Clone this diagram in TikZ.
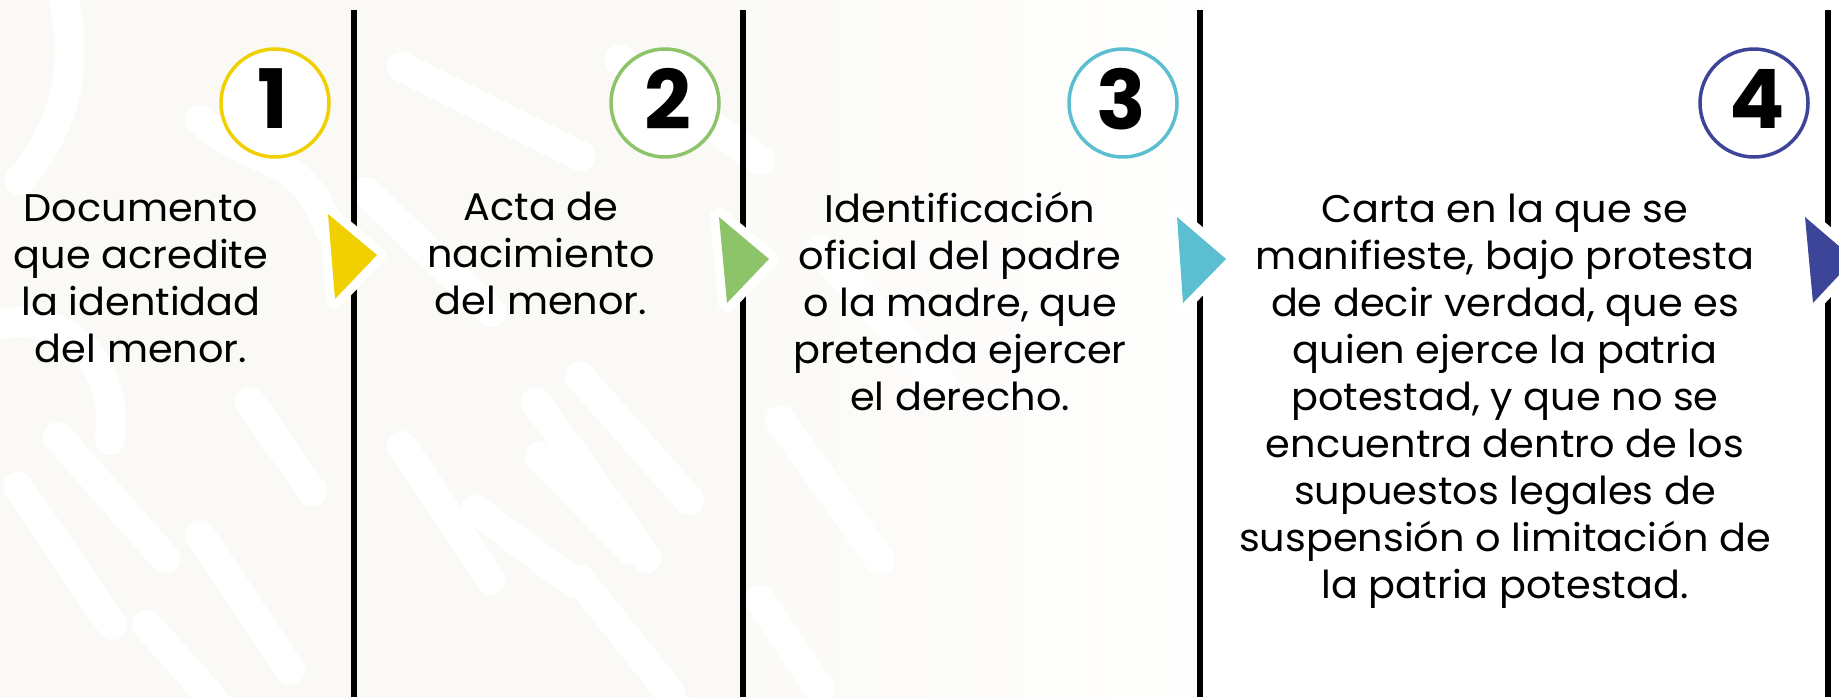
\documentclass[tikz,border=0pt]{standalone}
\usepackage{fontspec}
\setmainfont{Poppins}
\newfontfamily\bodyfont{Poppins}[FakeStretch=1.035]
\definecolor{cyel}{HTML}{F0D000}
\definecolor{cgrn}{HTML}{8DC46A}
\definecolor{ccyan}{HTML}{5BBFD1}
\definecolor{cnavy}{HTML}{3C4597}
\definecolor{cream}{HTML}{FAF9F5}
\tikzset{
  sepline/.style={line width=5.5pt, black},
  halo/.style={draw=white, line width=18pt, line join=round, fill=white},
  numcircle/.style={circle, minimum size=108pt, inner sep=0pt, line width=3.5pt, fill=white},
  numtext/.style={inner sep=0pt, anchor=center, font=\fontsize{82}{82}\selectfont\bfseries},
  bodytext/.style={inner sep=0pt, anchor=base, align=center, font=\bodyfont\fontsize{38.5}{47}\selectfont},
  bgstroke/.style={white, line width=30pt, line cap=round, line join=round}
}
\begin{document}
\begin{tikzpicture}[x=1pt,y=-1pt]
\useasboundingbox (0,0) rectangle (1839,697);
% background
\fill[cream] (0,0) rectangle (700,697);
\shade[left color=cream, right color=white] (699,0) rectangle (1250,697);
\draw[bgstroke] (60,-20) .. controls (80,60) and (70,120) .. (20,180);
\draw[bgstroke] (-20,330) .. controls (60,300) and (120,360) .. (110,440);
\draw[bgstroke] (58,437) -- (165,558);
\draw[bgstroke] (18,487) -- (112,625);
\draw[bgstroke] (200,535) -- (290,670);
\draw[bgstroke] (250,402) -- (312,491);
\draw[bgstroke] (147,625) -- (214,700);
\draw[bgstroke] (200,120) .. controls (260,170) and (300,150) .. (330,230);
\draw[bgstroke] (402,67) -- (580,156);
\draw[bgstroke] (366,192) -- (491,312);
\draw[bgstroke] (402,446) -- (491,580);
\draw[bgstroke] (536,402) -- (647,558);
\draw[bgstroke] (580,580) -- (670,692);
\draw[bgstroke] (476,510) -- (574,583);
\draw[bgstroke] (540,457) -- (631,550);
\draw[bgstroke] (580,377) -- (689,500);
\draw[bgstroke] (620,60) -- (760,160);
\draw[bgstroke] (780,420) -- (880,560);
\draw[bgstroke] (820,250) -- (940,380);
\draw[bgstroke] (760,600) -- (820,690);
% separator lines
\coordinate (l1t) at (354,10);  \coordinate (l1b) at (354,697);
\coordinate (l2t) at (743,10);  \coordinate (l2b) at (743,697);
\coordinate (l3t) at (1200,10); \coordinate (l3b) at (1200,697);
\coordinate (l4t) at (1828,10); \coordinate (l4b) at (1828,697);
\draw[sepline] (l1t) -- (l1b);
\draw[sepline] (l2t) -- (l2b);
\draw[sepline] (l3t) -- (l3b);
\draw[sepline] (l4t) -- (l4b);
% arrow triangles
\coordinate (a1a) at (328,214);  \coordinate (a1b) at (377,255);  \coordinate (a1c) at (335,299);
\coordinate (a2a) at (719,217);  \coordinate (a2b) at (769,259);  \coordinate (a2c) at (727,303);
\coordinate (a3a) at (1177,217); \coordinate (a3b) at (1226,259); \coordinate (a3c) at (1183,303);
\coordinate (a4a) at (1805,217); \coordinate (a4b) at (1854,259); \coordinate (a4c) at (1813,303);
\draw[halo] (a1a) -- (a1b) -- (a1c) -- cycle;
\fill[cyel] (a1a) -- (a1b) -- (a1c) -- cycle;
\draw[halo] (a2a) -- (a2b) -- (a2c) -- cycle;
\fill[cgrn] (a2a) -- (a2b) -- (a2c) -- cycle;
\draw[halo] (a3a) -- (a3b) -- (a3c) -- cycle;
\fill[ccyan] (a3a) -- (a3b) -- (a3c) -- cycle;
\draw[halo] (a4a) -- (a4b) -- (a4c) -- cycle;
\fill[cnavy] (a4a) -- (a4b) -- (a4c) -- cycle;
% number circles
\node[numcircle, draw=cyel]  (c1) at (275,103) {};
\node[numcircle, draw=cgrn]  (c2) at (665,103) {};
\node[numcircle, draw=ccyan] (c3) at (1123,103) {};
\node[numcircle, draw=cnavy] (c4) at (1754,103) {};
\node[numtext] (n1) at (273,99) {1};
\node[numtext] (n2) at (668,99) {2};
\node[numtext] (n3) at (1121,99) {3};
\node[numtext] (n4) at (1757,99) {4};
% texts (anchored at the baseline of their last line)
\node[bodytext] (t1) at (141,362) {Documento\\que acredite\\la identidad\\del menor.};
\node[bodytext] (t2) at (541,314) {Acta de\\nacimiento\\del menor.};
\node[bodytext] (t3) at (960,410) {Identificación\\oficial del padre\\o la madre, que\\pretenda ejercer\\el derecho.};
\node[bodytext] (t4) at (1505,598) {Carta en la que se\\manifieste, bajo protesta\\de decir verdad, que es\\quien ejerce la patria\\potestad, y que no se\\encuentra dentro de los\\supuestos legales de\\suspensión o limitación de\\la patria potestad.};
\end{tikzpicture}
\end{document}
